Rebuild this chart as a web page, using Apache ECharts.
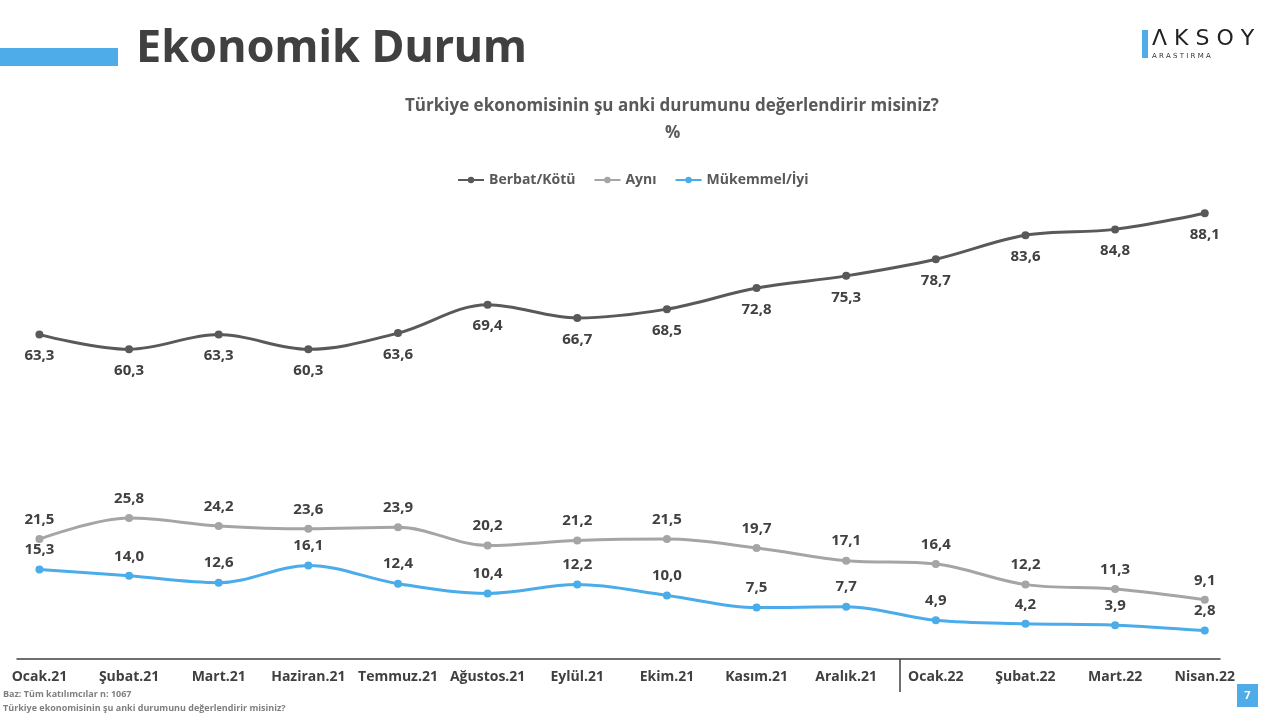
<!DOCTYPE html>
<html><head><meta charset="utf-8">
<script src="https://cdn.jsdelivr.net/npm/echarts@6/dist/echarts.min.js"></script>
<style>html,body{margin:0;padding:0;background:#fff}#c{width:1280px;height:717px}</style>
</head><body><div id="c"></div>
<script>
var categories = ['Ocak.21','Şubat.21','Mart.21','Haziran.21','Temmuz.21','Ağustos.21','Eylül.21','Ekim.21','Kasım.21','Aralık.21','Ocak.22','Şubat.22','Mart.22','Nisan.22'];
var berbat = [63.3,60.3,63.3,60.3,63.6,69.4,66.7,68.5,72.8,75.3,78.7,83.6,84.8,88.1];
var ayni = [21.5,25.8,24.2,23.6,23.9,20.2,21.2,21.5,19.7,17.1,16.4,12.2,11.3,9.1];
var mukemmel = [15.3,14.0,12.6,16.1,12.4,10.4,12.2,10.0,7.5,7.7,4.9,4.2,3.9,2.8];
var seriesNames = ['Berbat/Kötü','Aynı','Mükemmel/İyi'];
var yearBreak = [9.6];

var FONT = '"Open Sans", "Noto Sans", sans-serif';
function pairs(arr){ return arr.map(function(v,i){ return [i, v]; }); }
function fmt(p){ return p.value[1].toFixed(1).replace('.', ','); }
var labelStyle = {show:true, formatter:fmt, fontFamily:FONT, fontWeight:'bold', fontSize:15, color:'#404040'};

var chart = echarts.init(document.getElementById('c'));
chart.setOption({
  animation:false,
  textStyle:{fontFamily:FONT},
  title:[
    {text:'Ekonomik Durum', left:131, top:22, textStyle:{fontFamily:'"Noto Sans", sans-serif', fontWeight:'bold', fontSize:45, color:'#404040'}},
    {text:'Türkiye ekonomisinin şu anki durumunu değerlendirir misiniz?', left:400, top:93, textStyle:{fontFamily:FONT, fontWeight:'bold', fontSize:17, color:'#595959'}},
    {text:'%', left:660, top:120, textStyle:{fontFamily:FONT, fontWeight:'bold', fontSize:17, color:'#595959'}},
    {text:'Baz: Tüm katılımcılar n: 1067', left:3, top:690, padding:0, textStyle:{fontFamily:FONT, fontWeight:'bold', fontSize:9, color:'#7f7f7f'}},
    {text:'Türkiye ekonomisinin şu anki durumunu değerlendirir misiniz?', left:3, top:704, padding:0, textStyle:{fontFamily:FONT, fontWeight:'bold', fontSize:9, color:'#7f7f7f'}}
  ],
  legend:{
    top:168, left:452, itemGap:18, itemWidth:26, itemHeight:8,
    textStyle:{fontFamily:FONT, fontWeight:'bold', fontSize:14, color:'#595959'},
    data:seriesNames
  },
  grid:{left:17, right:60, top:155, bottom:58},
  xAxis:{
    type:'value', min:-0.25, max:13.17,
    splitLine:{show:false},
    axisLine:{show:true, onZero:false, lineStyle:{color:'#404040', width:1.5}},
    axisTick:{show:true, customValues:yearBreak, length:33, lineStyle:{color:'#404040', width:1.5}},
    axisLabel:{show:true, customValues:categories.map(function(c,i){return i;}),
      formatter:function(v){ return categories[Math.round(v)]; },
      margin:11, fontFamily:FONT, fontWeight:'bold', fontSize:14, color:'#404040'}
  },
  yAxis:{type:'value', min:-3, max:100, show:false, splitLine:{show:false}},
  series:[
    {name:seriesNames[0], type:'line', smooth:0.35, data:pairs(berbat), symbol:'circle', symbolSize:8,
     itemStyle:{color:'#595959'}, lineStyle:{width:3, color:'#595959'},
     label:Object.assign({position:'bottom', distance:10}, labelStyle)},
    {name:seriesNames[1], type:'line', smooth:0.35, data:pairs(ayni), symbol:'circle', symbolSize:8,
     itemStyle:{color:'#A5A5A5'}, lineStyle:{width:3, color:'#A5A5A5'},
     label:Object.assign({position:'top', distance:8}, labelStyle)},
    {name:seriesNames[2], type:'line', smooth:0.35, data:pairs(mukemmel), symbol:'circle', symbolSize:8,
     itemStyle:{color:'#4AACE9'}, lineStyle:{width:3, color:'#4AACE9'},
     label:Object.assign({position:'top', distance:8}, labelStyle)}
  ],
  graphic:[
    {type:'rect', shape:{x:0, y:48, width:118, height:18}, style:{fill:'#4EADE8'}},
    {type:'rect', shape:{x:1142, y:30, width:6, height:28}, style:{fill:'#4EADE8'}},
    {type:'text', x:1152, y:28, style:{text:'Λ K S O Y', font:'22px "DejaVu Sans", sans-serif', fill:'#222'}},
    {type:'text', x:1152, y:53, style:{text:'A R A S T I R M A', font:'7px "DejaVu Sans", sans-serif', fill:'#333'}},
    {type:'rect', shape:{x:1237, y:684, width:21, height:23}, style:{fill:'#4EADE8'}},
    {type:'text', x:1247.5, y:695.5, style:{text:'7', font:'bold 11px "Open Sans", sans-serif', fill:'#fff', textAlign:'center', textVerticalAlign:'middle'}}
  ]
});
</script></body></html>
